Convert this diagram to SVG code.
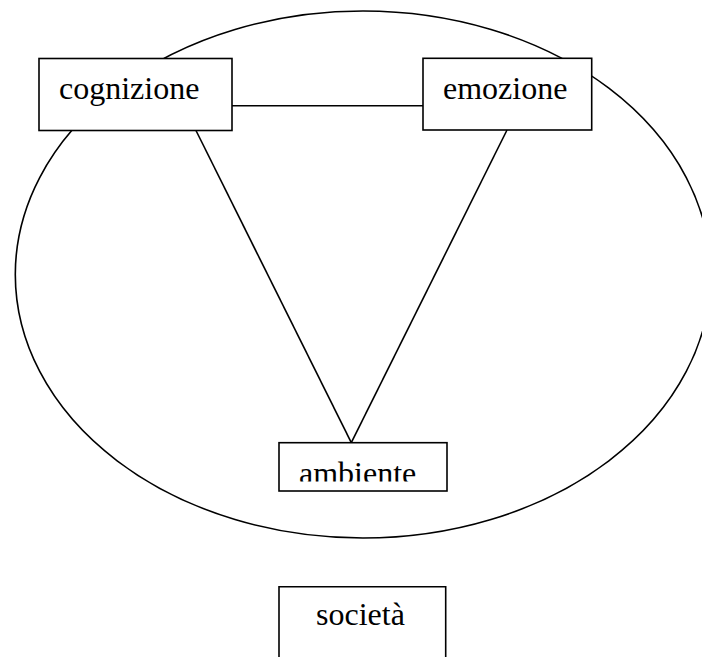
<svg xmlns="http://www.w3.org/2000/svg" width="702" height="657" viewBox="0 0 702 657">
<style>
.box{fill:#fff;stroke:#000;stroke-width:1.6}
.lbl{font-family:"Liberation Serif","Times New Roman",serif;font-size:32px;fill:#000}
.conn line{stroke:#000;stroke-width:1.6}
</style>
<defs>
<clipPath id="clipAmb"><rect x="279" y="442" width="169" height="39.5"/></clipPath>
</defs>
<rect width="702" height="657" fill="#fff"/>
<ellipse id="cerchio" cx="363" cy="274.5" rx="347.7" ry="263.5" fill="none" stroke="#000" stroke-width="1.6"/>
<g class="conn" id="connectors">
<line x1="232" y1="105.7" x2="423" y2="105.7"/>
<line x1="196" y1="130.5" x2="351.3" y2="442.7"/>
<line x1="507" y1="130" x2="351.3" y2="442.7"/>
</g>
<g id="cognizione">
<rect class="box" x="39" y="58.5" width="193" height="72"/>
<text class="lbl" x="59" y="99">cognizione</text>
</g>
<g id="emozione">
<rect class="box" x="423" y="58.3" width="168.7" height="71.7"/>
<text class="lbl" x="443" y="99">emozione</text>
</g>
<g id="ambiente">
<rect class="box" x="279" y="442.7" width="168" height="48.3"/>
<text class="lbl" x="299" y="484" clip-path="url(#clipAmb)">ambiente</text>
</g>
<g id="societa">
<path class="box" d="M279,660 V586.7 H445.7 V660"/>
<text class="lbl" x="316" y="625">società</text>
</g>
</svg>
